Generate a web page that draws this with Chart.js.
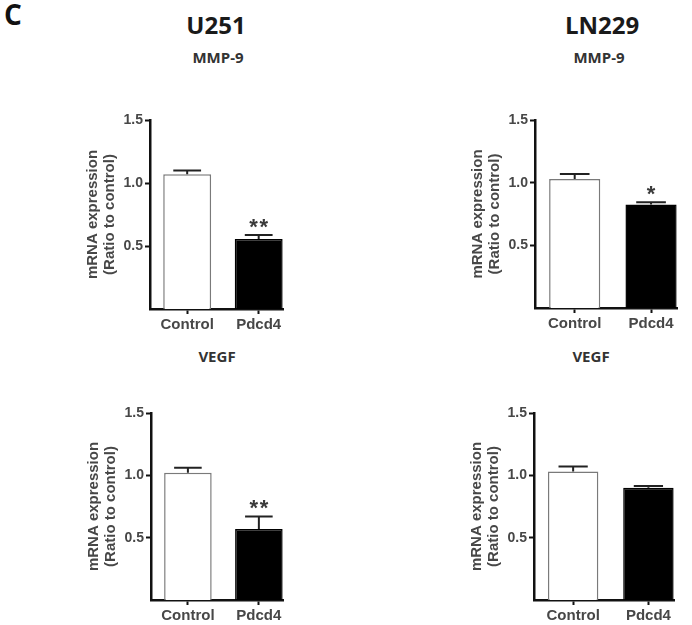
<!DOCTYPE html>
<html>
<head>
<meta charset="utf-8">
<script src="https://cdn.jsdelivr.net/npm/chart.js@4/dist/chart.umd.min.js"></script>
<style>
  body { margin: 0; background: #fff; width: 692px; height: 625px; position: relative; overflow: hidden; }
  .lbl { position: absolute; font-family: "Open Sans", sans-serif; font-weight: 700; line-height: 1; white-space: nowrap; text-align: center; width: 200px; }
  canvas { position: absolute; }
</style>
</head>
<body>
<div class="lbl" style="left:4px;top:0px;width:auto;font-size:28px;color:#111;">C</div>
<div class="lbl" style="left:116px;top:13px;font-size:24px;color:#1a1a1a;">U251</div>
<div class="lbl" style="left:502px;top:13px;font-size:24px;color:#1a1a1a;">LN229</div>
<div class="lbl" style="left:118px;top:50px;font-size:15px;color:#333;">MMP-9</div>
<div class="lbl" style="left:499px;top:50px;font-size:15px;color:#333;">MMP-9</div>
<div class="lbl" style="left:117px;top:349px;font-size:15px;color:#333;">VEGF</div>
<div class="lbl" style="left:491px;top:349px;font-size:15px;color:#333;">VEGF</div>

<canvas id="u251Mmp9"></canvas>
<canvas id="ln229Mmp9"></canvas>
<canvas id="u251Vegf"></canvas>
<canvas id="ln229Vegf"></canvas>

<script>
// data
const categories = ["Control", "Pdcd4"];
const yTicks = [0.5, 1.0, 1.5];

const u251Mmp9 = [1.07, 0.555];
const u251Mmp9Err = [0.03, 0.032];
const u251Mmp9Sig = ["", "**"];

const ln229Mmp9 = [1.03, 0.825];
const ln229Mmp9Err = [0.04, 0.018];
const ln229Mmp9Sig = ["", "*"];

const u251Vegf = [1.02, 0.57];
const u251VegfErr = [0.04, 0.10];
const u251VegfSig = ["", "**"];

const ln229Vegf = [1.03, 0.90];
const ln229VegfErr = [0.04, 0.015];
const ln229VegfSig = ["", ""];

const textColor = "#474747";
const axisFont = { family: "Liberation Sans, Arial, sans-serif", weight: "bold", size: 14 };

// error bars (upper only) + significance stars
const errorBarPlugin = {
  id: "errorBars",
  afterDatasetsDraw(chart) {
    const ctx = chart.ctx;
    const y = chart.scales.y;
    const opts = chart.options.plugins.errorBars;
    const meta = chart.getDatasetMeta(0);
    meta.data.forEach((bar, i) => {
      const mean = chart.data.datasets[0].data[i].y;
      const top = y.getPixelForValue(mean + opts.err[i]);
      const cap = bar.width * 0.29;
      ctx.save();
      ctx.strokeStyle = "#222";
      ctx.lineWidth = 2;
      ctx.beginPath();
      ctx.moveTo(bar.x, bar.y);
      ctx.lineTo(bar.x, top);
      ctx.moveTo(bar.x - cap, top);
      ctx.lineTo(bar.x + cap, top);
      ctx.stroke();
      if (opts.sig[i]) {
        ctx.fillStyle = "#3a3a3a";
        ctx.font = "bold 22px Liberation Sans, Arial, sans-serif";
        ctx.textAlign = "center";
        ctx.textBaseline = "alphabetic";
        ctx.fillText(opts.sig[i].split("").join("\u200A"), bar.x, top - 1);
      }
      ctx.restore();
    });
  }
};

function makePanel(id, values, err, sig, area) {
  const padTop = 12, padRight = 6, yWidth = 69, xHeight = 30;
  const canvas = document.getElementById(id);
  const w = (area.right - area.left) + yWidth + padRight;
  const h = (area.bottom - area.top) + padTop + xHeight;
  canvas.width = w;
  canvas.height = h;
  canvas.style.left = (area.left - yWidth) + "px";
  canvas.style.top = (area.top - padTop) + "px";
  canvas.style.width = w + "px";
  canvas.style.height = h + "px";

  return new Chart(canvas.getContext("2d"), {
    type: "bar",
    data: {
      datasets: [{
        data: values.map((v, i) => ({ x: i, y: v })),
        backgroundColor: ["#ffffff", "#000000"],
        borderColor: ["#7a7a7a", "#000000"],
        borderWidth: 1.5,
        barPercentage: 0.67,
        categoryPercentage: 1
      }]
    },
    options: {
      responsive: false,
      animation: false,
      layout: { padding: { top: padTop, right: padRight, left: 0, bottom: 0 } },
      plugins: {
        legend: { display: false },
        tooltip: { enabled: false },
        errorBars: { err: err, sig: sig }
      },
      scales: {
        x: {
          type: "linear",
          offset: false,
          min: -0.52,
          max: 1.34,
          afterBuildTicks: (s) => { s.ticks = categories.map((c, i) => ({ value: i })); },
          afterFit: (s) => { s.height = xHeight; },
          ticks: {
            callback: (v) => categories[v],
            color: textColor,
            font: { ...axisFont, size: 15 },
            padding: 2,
            maxRotation: 0,
            autoSkip: false
          },
          grid: { offset: false, drawOnChartArea: false, drawTicks: true, tickLength: 5, tickColor: "#111", tickWidth: 2 },
          border: { display: true, color: "#111", width: 2.5 }
        },
        y: {
          min: 0,
          max: 1.5,
          afterBuildTicks: (s) => { s.ticks = yTicks.map((v) => ({ value: v })); },
          afterFit: (s) => { s.width = yWidth; },
          ticks: {
            callback: (v) => v.toFixed(1),
            color: textColor,
            font: axisFont,
            padding: 2
          },
          grid: { drawOnChartArea: false, drawTicks: true, tickLength: 5, tickColor: "#111", tickWidth: 2 },
          border: { display: true, color: "#111", width: 2.5 },
          title: {
            display: true,
            text: ["mRNA expression", "(Ratio to control)"],
            color: textColor,
            font: { ...axisFont, size: 15, lineHeight: 1.1 },
            padding: { top: 4, bottom: 4 }
          }
        }
      }
    },
    plugins: [errorBarPlugin]
  });
}

makePanel("u251Mmp9", u251Mmp9, u251Mmp9Err, u251Mmp9Sig, { left: 150, top: 120, right: 283, bottom: 309 });
makePanel("ln229Mmp9", ln229Mmp9, ln229Mmp9Err, ln229Mmp9Sig, { left: 535, top: 120, right: 677, bottom: 308 });
makePanel("u251Vegf", u251Vegf, u251VegfErr, u251VegfSig, { left: 151, top: 413, right: 283, bottom: 600 });
makePanel("ln229Vegf", ln229Vegf, ln229VegfErr, ln229VegfSig, { left: 534, top: 413, right: 674, bottom: 600 });
</script>
</body>
</html>
